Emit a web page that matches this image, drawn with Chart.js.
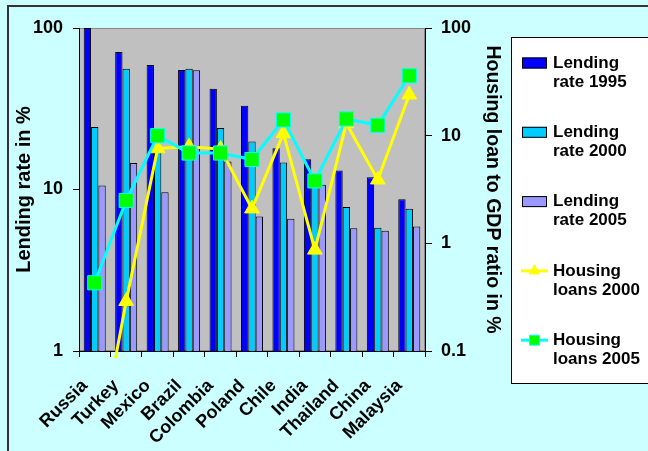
<!DOCTYPE html>
<html>
<head>
<meta charset="utf-8">
<script src="https://cdn.jsdelivr.net/npm/chart.js@4.4.1/dist/chart.umd.min.js"></script>
<style>
  html, body { margin: 0; padding: 0; background: #ccffff; }
  #wrap { position: relative; width: 648px; height: 451px; overflow: hidden; }
  #frame {
    position: absolute; left: 7px; top: 5px; width: 700px; height: 500px;
    border-left: 2px solid #333; border-top: 2px solid #333;
  }
  canvas { position: absolute; left: 0; top: 0; }
</style>
</head>
<body>
<div id="wrap">
  <div id="frame"></div>
  <canvas id="rateChart" width="648" height="451"></canvas>
</div>
<script>
const countries = ["Russia", "Turkey", "Mexico", "Brazil", "Colombia", "Poland",
  "Chile", "India", "Thailand", "China", "Malaysia"];

// lending rates, %
const lending1995 = [100, 71, 59, 55, 42, 33, 18, 15.4, 13.1, 11.9, 8.7];
const lending2000 = [24.4, 56, 18, 56, 24, 19.8, 14.7, 11, 7.8, 5.8, 7.6];
const lending2005 = [10.6, 14.6, 9.6, 54.7, 14.9, 6.8, 6.6, 10.7, 5.75, 5.56, 5.9];

// housing loans to GDP, %
const housing2000 = [0.008, 0.29, 7.6, 7.9, 7.5, 2.1, 10.5, 0.87, 13, 3.9, 24];
const housing2005 = [0.43, 2.5, 10, 6.9, 6.9, 6.0, 14, 3.8, 14.3, 12.5, 36];

const leftTicks = [1, 10, 100];
const rightTicks = [0.1, 1, 10, 100];

const FONT = "'Liberation Sans', Arial, sans-serif";
Chart.defaults.font.family = FONT;
Chart.defaults.font.weight = "bold";
Chart.defaults.color = "#000";

// grey plot area behind the bars
const plotBackground = {
  id: "plotBackground",
  beforeDraw(chart) {
    const { ctx, chartArea: a } = chart;
    ctx.save();
    ctx.fillStyle = "#c0c0c0";
    ctx.fillRect(a.left, a.top, a.right - a.left, a.bottom - a.top);
    ctx.strokeStyle = "#888";
    ctx.lineWidth = 1;
    ctx.strokeRect(a.left + 0.5, a.top + 0.5, a.right - a.left - 1, a.bottom - a.top - 1);
    ctx.restore();
  },
};

// country names at 45 degrees, ending just left of each category centre
const slantedLabels = {
  id: "slantedLabels",
  afterDraw(chart) {
    const { ctx } = chart;
    const xs = chart.scales.x;
    ctx.save();
    ctx.fillStyle = "#000";
    ctx.font = "bold 18px " + FONT;
    ctx.textAlign = "right";
    ctx.textBaseline = "middle";
    chart.data.labels.forEach((name, i) => {
      const x = xs.getPixelForTick(i) - 10;
      ctx.save();
      ctx.translate(x, xs.top + 32);
      ctx.rotate(-Math.PI / 4);
      ctx.fillText(name, 0, 0);
      ctx.restore();
    });
    ctx.restore();
  },
};

// boxed legend on the right, two text lines per entry
const sideLegend = {
  id: "sideLegend",
  afterDraw(chart) {
    const { ctx } = chart;
    ctx.save();
    ctx.fillStyle = "#fff";
    ctx.fillRect(511.5, 37.5, 200, 346);
    ctx.strokeStyle = "#000";
    ctx.lineWidth = 1;
    ctx.strokeRect(511.5, 37.5, 200, 346);

    chart.data.datasets.forEach((ds, i) => {
      const y = 63 + i * 69.3;
      if (ds.type === "line") {
        ctx.strokeStyle = ds.borderColor;
        ctx.lineWidth = 3;
        ctx.beginPath();
        ctx.moveTo(521, y);
        ctx.lineTo(548, y);
        ctx.stroke();
        ctx.fillStyle = ds.pointBackgroundColor;
        ctx.strokeStyle = ds.pointBorderColor;
        ctx.lineWidth = 1;
        Chart.helpers.drawPoint(ctx, {
          pointStyle: ds.pointStyle,
          radius: ds.pointStyle === "rect" ? 7 : 6,
          rotation: 0,
          borderWidth: 1,
        }, 534.5, y);
      } else {
        ctx.fillStyle = ds.backgroundColor;
        ctx.fillRect(522, y - 5.5, 25, 11);
        ctx.strokeStyle = "#000";
        ctx.lineWidth = 1;
        ctx.strokeRect(522.5, y - 5, 24, 10);
      }
      const words = ds.label.split(" ");
      ctx.fillStyle = "#000";
      ctx.font = "bold 17px " + FONT;
      ctx.textBaseline = "middle";
      ctx.textAlign = "left";
      ctx.fillText(words[0], 553, y);
      ctx.fillText(words.slice(1).join(" "), 553, y + 19);
    });
    ctx.restore();
  },
};

const ctx = document.getElementById("rateChart").getContext("2d");

new Chart(ctx, {
  type: "bar",
  data: {
    labels: countries,
    datasets: [
      {
        label: "Lending rate 1995",
        data: lending1995,
        backgroundColor: "#0000ff",
        borderColor: "#000",
        borderWidth: 1,
        yAxisID: "y",
        order: 3,
      },
      {
        label: "Lending rate 2000",
        data: lending2000,
        backgroundColor: "#00ccff",
        borderColor: "#000",
        borderWidth: 1,
        yAxisID: "y",
        order: 3,
      },
      {
        label: "Lending rate 2005",
        data: lending2005,
        backgroundColor: "#9999ff",
        borderColor: "#000",
        borderWidth: 1,
        yAxisID: "y",
        order: 3,
      },
      {
        type: "line",
        label: "Housing loans 2000",
        data: housing2000,
        borderColor: "#ffff00",
        borderWidth: 3,
        pointStyle: "triangle",
        pointRadius: 8.5,
        pointBackgroundColor: "#ffff00",
        pointBorderColor: "#ffff00",
        pointBorderWidth: 1,
        yAxisID: "y2",
        clip: { left: 10, top: 10, right: 10, bottom: 7 },
        order: 1,
      },
      {
        type: "line",
        label: "Housing loans 2005",
        data: housing2005,
        borderColor: "#00ffff",
        borderWidth: 3,
        pointStyle: "rect",
        pointRadius: 10,
        pointBackgroundColor: "#00ff00",
        pointBorderColor: "#00ffff",
        pointBorderWidth: 1,
        yAxisID: "y2",
        clip: 10,
        order: 0,
      },
    ],
  },
  options: {
    responsive: false,
    animation: false,
    layout: { padding: { top: 28, left: 0, right: 0, bottom: 0 } },
    datasets: {
      bar: { categoryPercentage: 0.7, barPercentage: 1.0, borderSkipped: "bottom" },
    },
    plugins: {
      legend: { display: false },
      tooltip: { enabled: false },
    },
    scales: {
      x: {
        grid: { drawOnChartArea: false, offset: true, tickLength: 6, color: "#000" },
        border: { color: "#000", width: 1 },
        ticks: { display: false, autoSkip: false },
        afterFit: (scale) => { scale.height = 100; },
      },
      y: {
        type: "logarithmic",
        position: "left",
        min: 1,
        max: 100,
        afterBuildTicks: (scale) => { scale.ticks = leftTicks.map((v) => ({ value: v })); },
        ticks: {
          padding: 10,
          font: { size: 18, weight: "bold" },
          callback: (v) => String(v),
        },
        grid: { drawOnChartArea: false, tickLength: 6, color: "#000" },
        border: { color: "#000", width: 1 },
        title: {
          display: true,
          text: "Lending rate in %",
          font: { size: 20, weight: "bold" },
          padding: { top: 12, bottom: 0 },
        },
        afterFit: (scale) => { scale.width = 79; },
      },
      y2: {
        type: "logarithmic",
        position: "right",
        min: 0.1,
        max: 100,
        afterBuildTicks: (scale) => { scale.ticks = rightTicks.map((v) => ({ value: v })); },
        ticks: {
          padding: 9,
          font: { size: 18, weight: "bold" },
          callback: (v) => String(v),
        },
        grid: { drawOnChartArea: false, tickLength: 7, color: "#000" },
        border: { color: "#000", width: 1 },
        title: {
          display: true,
          text: "Housing loan to GDP ratio in %",
          font: { size: 19.5, weight: "bold" },
          padding: { top: 144, bottom: 0 },
        },
        afterFit: (scale) => { scale.width = 223; },
      },
    },
  },
  plugins: [plotBackground, slantedLabels, sideLegend],
});
</script>
</body>
</html>
